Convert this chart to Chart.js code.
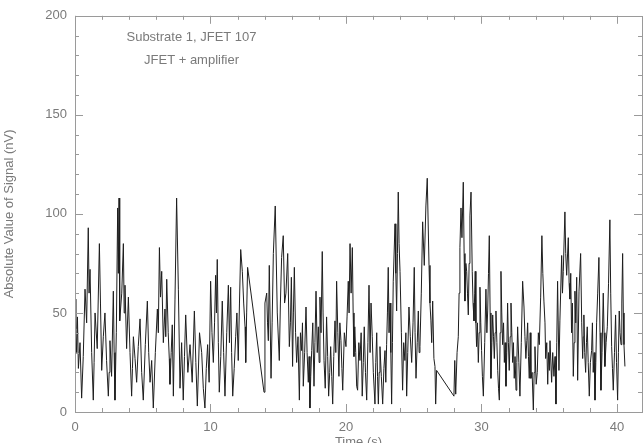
<!DOCTYPE html>
<html>
<head>
<meta charset="utf-8">
<title>Substrate 1, JFET 107</title>
<script src="https://cdn.jsdelivr.net/npm/chart.js@4/dist/chart.umd.min.js"></script>
<style>
    html, body { margin: 0; padding: 0; background: #fff; overflow: hidden; }
    #myChart { display: block; }
</style>
</head>
<body>
<canvas id="myChart" width="644" height="460"></canvas>
<script>
// time in seconds
var timeSec = [
    0.00, 0.06, 0.12, 0.18, 0.25, 0.37, 0.49, 0.61, 0.74, 0.86, 0.98, 1.04, 1.11, 1.23, 1.35, 1.41,
    1.48, 1.64, 1.80, 1.88, 1.97, 2.09, 2.21, 2.33, 2.46, 2.52, 2.58, 2.70, 2.83, 2.89, 2.95, 3.05,
    3.15, 3.20, 3.25, 3.28, 3.32, 3.45, 3.57, 3.63, 3.69, 3.81, 3.94, 4.06, 4.18, 4.24, 4.31, 4.43,
    4.55, 4.67, 4.80, 4.92, 5.04, 5.19, 5.34, 5.44, 5.54, 5.66, 5.78, 5.93, 6.08, 6.15, 6.23, 6.31,
    6.40, 6.52, 6.64, 6.70, 6.77, 6.88, 6.96, 7.01, 7.10, 7.18, 7.26, 7.38, 7.50, 7.63, 7.75, 7.87,
    7.99, 8.08, 8.17, 8.33, 8.49, 8.65, 8.81, 8.92, 9.03, 9.19, 9.35, 9.47, 9.59, 9.69, 9.79, 9.90,
    10.01, 10.11, 10.21, 10.30, 10.38, 10.44, 10.50, 10.58, 10.65, 10.76, 10.87, 10.97, 11.07, 11.20, 11.32, 11.40,
    11.49, 11.56, 11.64, 11.75, 11.86, 11.95, 12.05, 12.14, 12.23, 12.35, 12.45, 12.55, 12.60, 12.67, 12.74, 13.95,
    14.02, 14.15, 14.21, 14.27, 14.34, 14.47, 14.55, 14.64, 14.78, 14.93, 15.08, 15.16, 15.25, 15.37, 15.47, 15.57,
    15.70, 15.82, 15.90, 15.97, 16.06, 16.12, 16.19, 16.28, 16.36, 16.46, 16.56, 16.64, 16.73, 16.79, 16.85, 16.95,
    17.05, 17.13, 17.22, 17.28, 17.34, 17.40, 17.47, 17.55, 17.64, 17.71, 17.79, 17.88, 17.96, 18.02, 18.08, 18.16,
    18.25, 18.31, 18.38, 18.47, 18.57, 18.65, 18.72, 18.80, 18.87, 18.95, 19.02, 19.10, 19.19, 19.25, 19.31, 19.40,
    19.48, 19.55, 19.63, 19.70, 19.76, 19.88, 20.00, 20.08, 20.17, 20.23, 20.30, 20.38, 20.47, 20.53, 20.59, 20.65,
    20.72, 20.79, 20.86, 20.95, 21.03, 21.12, 21.20, 21.28, 21.35, 21.44, 21.53, 21.62, 21.70, 21.78, 21.85, 21.94,
    22.02, 22.14, 22.20, 22.27, 22.33, 22.39, 22.45, 22.51, 22.61, 22.71, 22.80, 22.88, 22.94, 23.00, 23.06, 23.12,
    23.18, 23.25, 23.31, 23.37, 23.43, 23.49, 23.62, 23.68, 23.74, 23.80, 23.86, 23.92, 23.99, 24.09, 24.18, 24.26,
    24.35, 24.42, 24.48, 24.56, 24.65, 24.75, 24.85, 24.95, 25.04, 25.10, 25.17, 25.26, 25.34, 25.40, 25.46, 25.56,
    25.66, 25.78, 25.90, 26.00, 26.13, 26.20, 26.27, 26.33, 26.40, 26.49, 26.57, 26.62, 26.69, 27.97, 28.03, 28.10,
    28.20, 28.29, 28.35, 28.41, 28.49, 28.56, 28.66, 28.72, 28.78, 28.85, 28.91, 28.97, 29.03, 29.09, 29.15, 29.23,
    29.32, 29.38, 29.45, 29.50, 29.54, 29.59, 29.64, 29.70, 29.77, 29.83, 29.89, 29.95, 30.01, 30.07, 30.14, 30.24,
    30.33, 30.40, 30.46, 30.52, 30.58, 30.64, 30.70, 30.77, 30.83, 30.89, 30.95, 31.01, 31.07, 31.14, 31.20, 31.26,
    31.32, 31.38, 31.44, 31.50, 31.56, 31.63, 31.69, 31.75, 31.81, 31.87, 31.93, 31.99, 32.05, 32.12, 32.18, 32.24,
    32.30, 32.36, 32.42, 32.48, 32.55, 32.61, 32.67, 32.76, 32.84, 32.94, 33.04, 33.14, 33.21, 33.28, 33.35, 33.41,
    33.47, 33.53, 33.60, 33.65, 33.74, 33.83, 33.89, 33.95, 34.04, 34.12, 34.20, 34.27, 34.37, 34.46, 34.53, 34.61,
    34.69, 34.74, 34.82, 34.89, 34.95, 35.01, 35.06, 35.18, 35.26, 35.35, 35.43, 35.50, 35.56, 35.62, 35.72, 35.79,
    35.92, 35.98, 36.04, 36.16, 36.22, 36.29, 36.41, 36.47, 36.53, 36.59, 36.65, 36.71, 36.78, 36.84, 36.90, 36.96,
    37.03, 37.10, 37.20, 37.32, 37.40, 37.47, 37.52, 37.56, 37.62, 37.69, 37.75, 37.81, 37.88, 37.96, 38.04, 38.13,
    38.19, 38.25, 38.32, 38.38, 38.44, 38.50, 38.58, 38.67, 38.75, 38.82, 38.90, 38.99, 39.05, 39.11, 39.20, 39.29,
    39.38, 39.48, 39.54, 39.61, 39.67, 39.73, 39.82, 39.90, 39.97, 40.05, 40.11, 40.17, 40.23, 40.30, 40.36, 40.42,
    40.47, 40.52, 40.59
];

// absolute value of signal in nV
var signalNv = [
    57, 42, 30, 48, 22, 35, 7, 28, 62, 45, 93, 60, 72, 30, 6, 25,
    50, 32, 85, 55, 21, 38, 50, 26, 8, 20, 36, 18, 61, 30, 6, 40,
    103, 70, 108, 80, 46, 60, 85, 50, 64, 32, 58, 30, 8, 22, 38, 27,
    15, 33, 47, 20, 6, 34, 56, 30, 15, 26, 2, 30, 52, 40, 83, 58,
    71, 35, 52, 38, 67, 40, 27, 14, 30, 44, 8, 57, 108, 62, 12, 35,
    6, 28, 49, 20, 34, 15, 51, 25, 3, 40, 30, 12, 2, 22, 34, 15,
    66, 40, 25, 45, 69, 50, 77, 35, 10, 28, 56, 30, 8, 40, 64, 35,
    63, 30, 8, 22, 38, 50, 26, 55, 82, 71, 55, 43, 25, 50, 73, 10,
    55, 60, 45, 36, 74, 17, 45, 80, 104, 50, 26, 55, 78, 89, 55, 60,
    80, 33, 45, 68, 23, 50, 73, 40, 25, 38, 6, 40, 31, 45, 13, 30,
    53, 30, 15, 28, 2, 18, 31, 45, 13, 35, 61, 30, 43, 25, 58, 40,
    81, 50, 26, 12, 48, 28, 8, 20, 33, 18, 4, 28, 46, 30, 66, 40,
    18, 45, 36, 22, 11, 40, 33, 48, 66, 50, 85, 60, 83, 50, 28, 43,
    30, 13, 11, 35, 26, 40, 8, 25, 43, 20, 6, 35, 64, 30, 55, 38,
    20, 4, 25, 40, 18, 4, 20, 33, 18, 4, 22, 31, 15, 34, 50, 73,
    40, 55, 30, 4, 35, 66, 95, 70, 51, 80, 111, 85, 71, 40, 11, 35,
    26, 40, 8, 30, 53, 38, 25, 45, 73, 40, 17, 35, 51, 30, 33, 60,
    96, 74, 104, 118, 74, 55, 46, 35, 56, 27, 23, 4, 21, 8, 26, 9,
    30, 38, 60, 83, 103, 88, 116, 80, 56, 75, 71, 60, 49, 75, 99, 111,
    71, 55, 46, 60, 71, 45, 33, 45, 25, 40, 63, 45, 31, 18, 8, 35,
    62, 40, 51, 70, 89, 50, 17, 35, 49, 38, 27, 40, 51, 35, 21, 12,
    6, 40, 71, 50, 34, 45, 25, 35, 13, 30, 55, 35, 21, 38, 55, 40,
    25, 35, 17, 28, 11, 25, 43, 25, 8, 35, 66, 53, 38, 27, 36, 45,
    28, 17, 40, 17, 20, 1, 20, 33, 14, 20, 40, 34, 58, 89, 70, 56,
    45, 27, 35, 14, 30, 21, 36, 15, 30, 18, 28, 4, 35, 66, 21, 46,
    79, 60, 71, 101, 80, 69, 88, 65, 57, 70, 40, 55, 18, 35, 61, 45,
    68, 16, 61, 80, 45, 27, 38, 49, 30, 20, 35, 43, 25, 8, 25, 31,
    45, 20, 30, 6, 25, 45, 60, 78, 40, 11, 30, 60, 40, 23, 35, 43,
    65, 97, 60, 33, 22, 11, 30, 49, 25, 6, 30, 51, 40, 34, 55, 80,
    50, 34, 23
];

var xTicks = [0, 10, 20, 30, 40];
var yTicks = [0, 50, 100, 150, 200];
var notes = ['Substrate 1, JFET 107', 'JFET + amplifier'];

var textGray = '#7a7a7a';
var frameGray = '#9a9a9a';
var fontFamily = '"Liberation Sans", Arial, sans-serif';

// box around the plot with inward ticks on all four sides
var framePlugin = {
    id: 'frame',
    afterDraw: function (chart) {
        var ctx = chart.ctx;
        var a = chart.chartArea;
        var xs = chart.scales.x;
        var ys = chart.scales.y;
        ctx.save();
        ctx.strokeStyle = frameGray;
        ctx.lineWidth = 1;
        ctx.strokeRect(Math.round(a.left) + 0.5, Math.round(a.top) + 0.5,
            Math.round(a.right - a.left), Math.round(a.bottom - a.top));
        ctx.beginPath();
        var v, p, len;
        for (v = 0; v <= xs.max; v += 2) {
            p = Math.round(xs.getPixelForValue(v)) + 0.5;
            len = (v % 10 === 0) ? 8 : 4;
            ctx.moveTo(p, a.bottom); ctx.lineTo(p, a.bottom - len);
            ctx.moveTo(p, a.top); ctx.lineTo(p, a.top + len);
        }
        for (v = 0; v <= ys.max; v += 10) {
            p = Math.round(ys.getPixelForValue(v)) + 0.5;
            len = (v % 50 === 0) ? 8 : 4;
            ctx.moveTo(a.left, p); ctx.lineTo(a.left + len, p);
            ctx.moveTo(a.right, p); ctx.lineTo(a.right - len, p);
        }
        ctx.stroke();

        // the two notes in the upper left
        ctx.fillStyle = textGray;
        ctx.font = '13px ' + fontFamily;
        ctx.textAlign = 'center';
        ctx.textBaseline = 'middle';
        ctx.fillText(notes[0], xs.getPixelForValue(8.6), ys.getPixelForValue(189));
        ctx.fillText(notes[1], xs.getPixelForValue(8.6), ys.getPixelForValue(177.5));
        ctx.restore();
    }
};

window.onload = function () {
    var ctx = document.getElementById('myChart').getContext('2d');
    var points = timeSec.map(function (t, i) {
        return { x: t, y: signalNv[i] };
    });

    new Chart(ctx, {
        type: 'line',
        data: {
            datasets: [{
                label: 'Signal',
                data: points,
                borderColor: '#1e1e1e',
                borderWidth: 1,
                pointRadius: 0,
                fill: false,
                tension: 0
            }]
        },
        options: {
            responsive: false,
            animation: false,
            layout: { padding: { top: 12, right: 2, left: 0, bottom: 0 } },
            plugins: {
                legend: { display: false },
                tooltip: { enabled: false }
            },
            scales: {
                x: {
                    type: 'linear',
                    min: 0,
                    max: 41.85,
                    afterBuildTicks: function (scale) {
                        scale.ticks = xTicks.map(function (v) { return { value: v }; });
                    },
                    afterFit: function (scale) { scale.height = 48; },
                    grid: { display: false, drawTicks: false },
                    border: { display: false },
                    ticks: {
                        color: textGray,
                        padding: 8,
                        maxRotation: 0,
                        font: { family: fontFamily, size: 13 }
                    },
                    title: {
                        display: true,
                        text: 'Time (s)',
                        color: textGray,
                        padding: { top: 0, bottom: 10 },
                        font: { family: fontFamily, size: 13 }
                    }
                },
                y: {
                    min: 0,
                    max: 200,
                    afterBuildTicks: function (scale) {
                        scale.ticks = yTicks.map(function (v) { return { value: v }; });
                    },
                    afterFit: function (scale) { scale.width = 75; },
                    grid: { display: false, drawTicks: false },
                    border: { display: false },
                    ticks: {
                        color: textGray,
                        padding: 8,
                        font: { family: fontFamily, size: 13 }
                    },
                    title: {
                        display: true,
                        text: 'Absolute Value of Signal (nV)',
                        color: textGray,
                        padding: { top: 2, bottom: 0 },
                        font: { family: fontFamily, size: 13 }
                    }
                }
            }
        },
        plugins: [framePlugin]
    });
};
</script>
</body>
</html>
